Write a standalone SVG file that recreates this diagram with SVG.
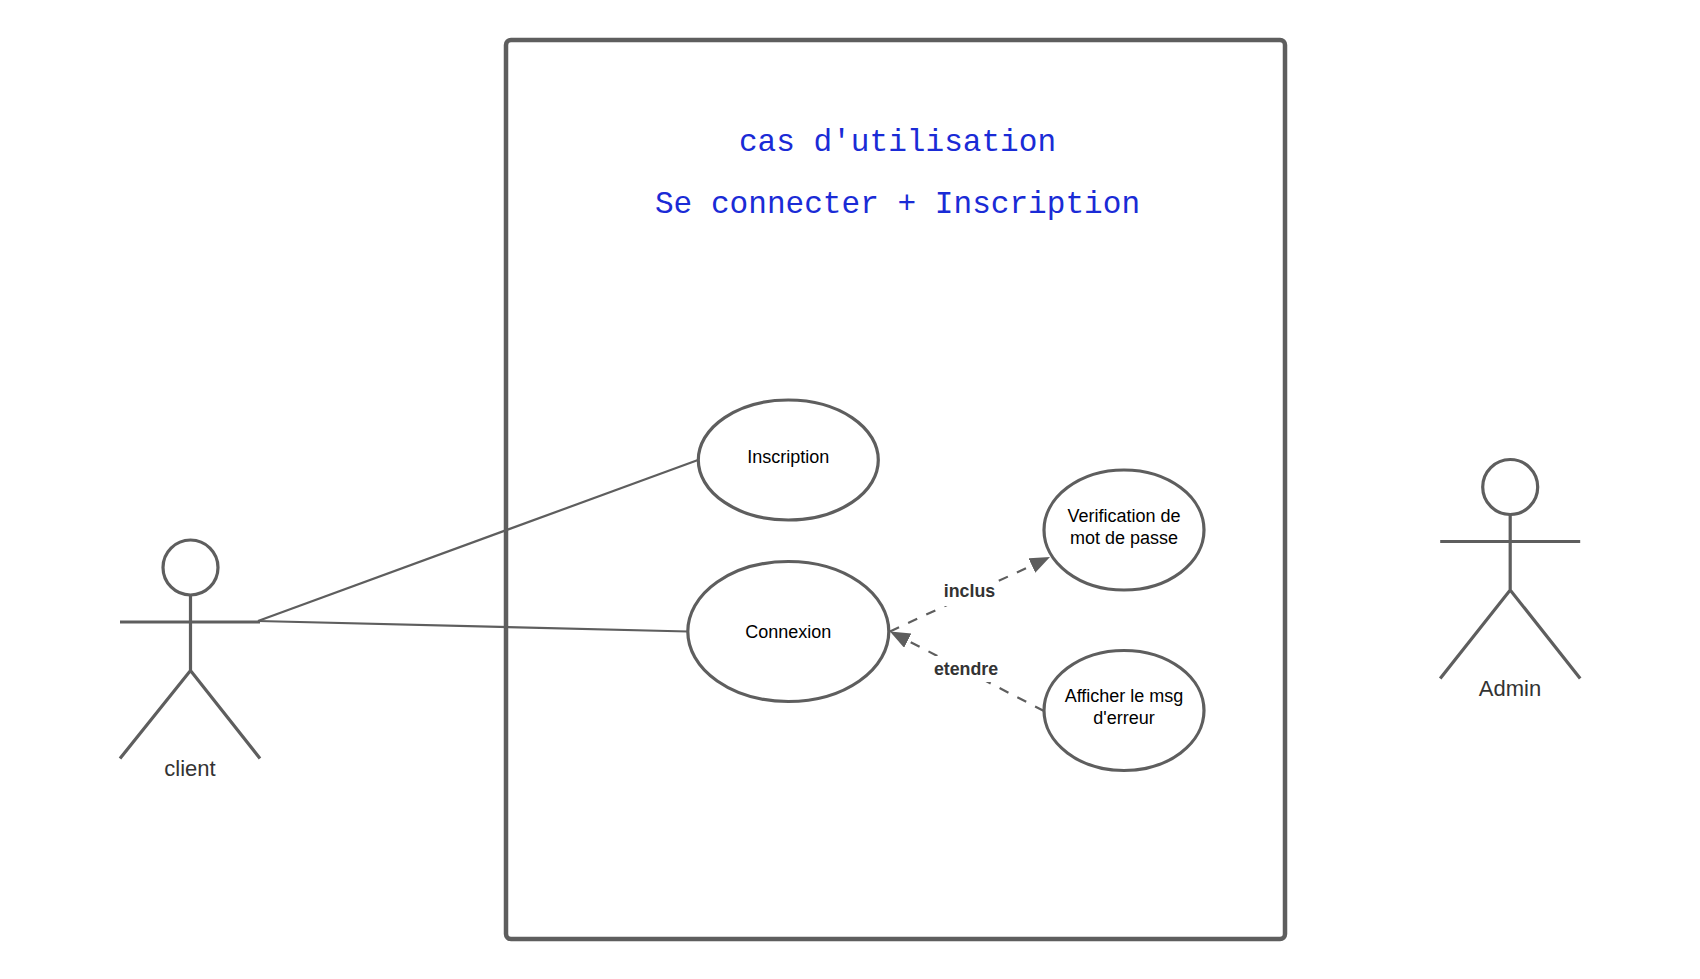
<svg xmlns="http://www.w3.org/2000/svg" width="1700" height="979" viewBox="0 0 1700 979">
<style>
.s{fill:#fff;stroke:#5e5e5e;stroke-width:3.2}
.a{fill:none;stroke:#5e5e5e;stroke-width:3.2}
.c{fill:none;stroke:#5e5e5e;stroke-width:2.2}
.d{fill:none;stroke:#5e5e5e;stroke-width:2.2;stroke-dasharray:10 10}
text{font-family:"Liberation Sans",Arial,sans-serif;text-anchor:middle}
.n{font-size:18px;fill:#000}
.l{font-size:22px;fill:#333}
.e{font-size:17.800px;font-weight:bold;fill:#333}
.t{font-family:"Liberation Mono","Courier New",monospace;font-size:31.1px;fill:#1a2bd6}
</style>
<defs><marker id="ah" markerUnits="userSpaceOnUse" markerWidth="22" markerHeight="18" refX="20" refY="8" orient="auto"><path d="M0 0L20 8L0 16Z" fill="#5e5e5e"/></marker></defs>
<g id="frame"><rect x="506" y="40" width="779" height="899" rx="5" fill="#fff" stroke="#5e5e5e" stroke-width="4.500"/></g>
<g id="title"><text class="t" x="897.500" y="151">cas d'utilisation</text><text class="t" x="897.500" y="213">Se connecter + Inscription</text></g>
<g id="client"><circle class="a" cx="190.500" cy="567.500" r="27.500"/><path class="a" d="M190.500 595V670.500M120 622H260M120 758.500L190.500 670.500L260 758.500"/><text class="l" x="190" y="776">client</text></g>
<g id="admin"><circle class="a" cx="1510.200" cy="487" r="27.500"/><path class="a" d="M1510.200 514.500V590M1440.200 541.500H1580.200M1440.200 678.500L1510.200 590L1580.200 678.500"/><text class="l" x="1510" y="696">Admin</text></g>
<g id="connectors">
<path class="c" d="M258 621L698 460"/>
<path class="c" d="M258 621L688 631.500"/>
<path class="d" d="M890 631.500L1050 557" marker-end="url(#ah)"/>
<path class="d" d="M1044 711L890 631.500" marker-end="url(#ah)"/>
<rect x="940" y="578" width="58" height="28" fill="#fff"/>
<rect x="933" y="656" width="66" height="26" fill="#fff"/>
<text class="e" x="969.500" y="597">inclus</text>
<text class="e" x="966" y="675">etendre</text>
</g>
<g id="inscription"><ellipse class="s" cx="788.300" cy="460" rx="90" ry="60"/><text class="n" x="788.300" y="463">Inscription</text></g>
<g id="connexion"><ellipse class="s" cx="788.300" cy="631.500" rx="100.500" ry="70"/><text class="n" x="788.300" y="637.500">Connexion</text></g>
<g id="verification"><ellipse class="s" cx="1124" cy="530" rx="80" ry="60"/><text class="n" x="1124" y="522">Verification de</text><text class="n" x="1124" y="543.500">mot de passe</text></g>
<g id="afficher"><ellipse class="s" cx="1124" cy="710.500" rx="80" ry="60"/><text class="n" x="1124" y="702">Afficher le msg</text><text class="n" x="1124" y="723.500">d'erreur</text></g>
</svg>
